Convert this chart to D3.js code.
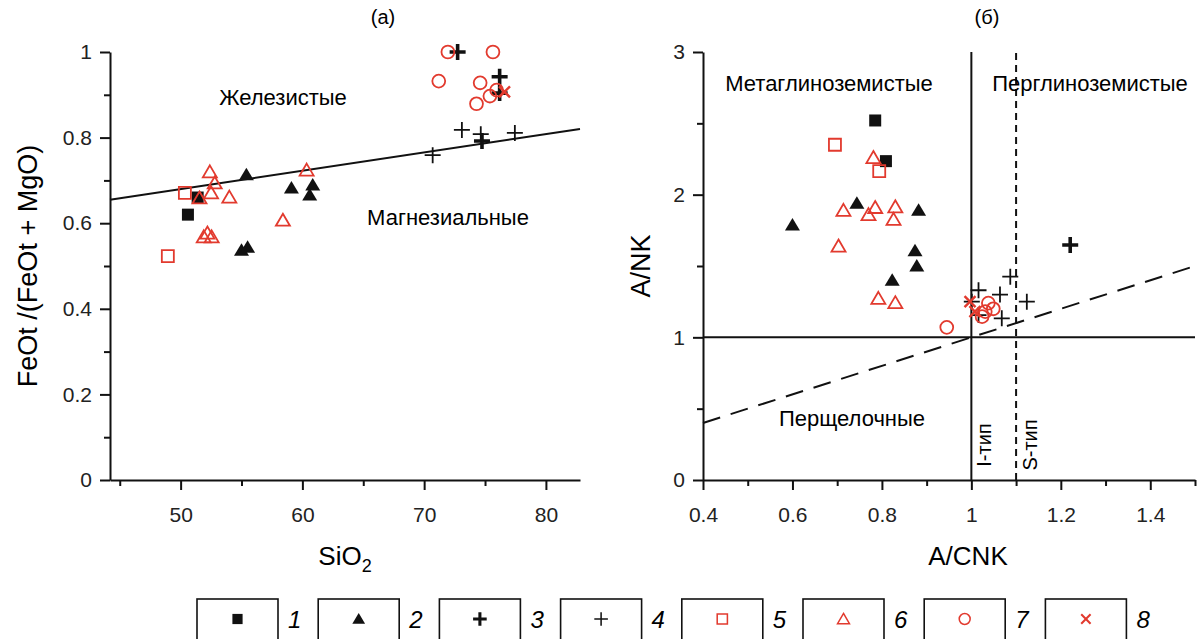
<!DOCTYPE html>
<html>
<head>
<meta charset="utf-8">
<script src="https://cdn.jsdelivr.net/npm/d3@7"></script>
<style>
  body { margin: 0; background: #fff; }
  svg { font-family: "Liberation Sans", Arial, sans-serif; }
</style>
</head>
<body>
<div id="chart"></div>
<script>
// ---- data (a): SiO2 vs FeOt/(FeOt+MgO) ----
const feS1 = [[50.6, 0.62], [51.4, 0.66]];
const feS2 = [[55.4, 0.713], [59.1, 0.682], [60.85, 0.689], [60.6, 0.666], [55.0, 0.537], [55.5, 0.544]];
const feS3 = [[72.75, 1.0], [76.2, 0.942], [76.2, 0.904], [74.75, 0.792]];
const feS4 = [[70.7, 0.759], [73.1, 0.818], [77.45, 0.811], [74.65, 0.808]];
const feS5 = [[50.35, 0.671], [48.95, 0.523]];
const feS6 = [[52.4, 0.72], [52.8, 0.694], [51.55, 0.659], [52.5, 0.671], [54.0, 0.661], [58.4, 0.607],
              [60.35, 0.724], [51.9, 0.568], [52.2, 0.577], [52.55, 0.568]];
const feS7 = [[71.95, 1.0], [75.65, 1.0], [71.2, 0.932], [74.6, 0.928], [74.3, 0.879], [75.4, 0.897], [75.95, 0.911]];
const feS8 = [[76.6, 0.907]];
const feBoundary = [[44.2, 0.655], [82.8, 0.82]];

// ---- data (б): A/CNK vs A/NK ----
const anS1 = [[0.785, 2.52], [0.809, 2.235]];
const anS2 = [[0.744, 1.94], [0.60, 1.787], [0.882, 1.89], [0.874, 1.607], [0.878, 1.50], [0.823, 1.40]];
const anS3 = [[1.221, 1.647]];
const anS4 = [[1.087, 1.425], [1.124, 1.25], [1.064, 1.30], [1.016, 1.33], [1.001, 1.25], [1.016, 1.156], [1.068, 1.133]];
const anS5 = [[0.695, 2.35], [0.794, 2.165]];
const anS6 = [[0.781, 2.26], [0.714, 1.89], [0.785, 1.91], [0.77, 1.86], [0.83, 1.915], [0.826, 1.827],
              [0.703, 1.64], [0.792, 1.273], [0.83, 1.243]];
const anS7 = [[0.945, 1.07], [1.038, 1.24], [1.049, 1.20], [1.031, 1.18], [1.024, 1.145]];
const anS8 = [[0.997, 1.25], [1.008, 1.18]];
const metaPerLine = [[1, 0], [1, 3]];
const iSLine = [[1.1, 0], [1.1, 3]];
const nkLine = [[0.4, 1], [1.5, 1]];
const peralkLine = [[0.4, 0.4], [1.5, 1.5]];

// ticks
const feXTicks = d3.range(45, 81, 5);
const feYTicks = d3.range(0, 11).map(d => d / 10);
const anXTicks = d3.range(4, 16).map(d => d / 10);
const anYTicks = d3.range(0, 7).map(d => d / 2);

const legendItems = ["1", "2", "3", "4", "5", "6", "7", "8"];
const markerTypes = ["sq", "tri", "pb", "p", "osq", "otri", "oc", "x"];

const RED = "#e23a2e", BLK = "#111";

var svg = d3.select("#chart").append("svg")
  .attr("width", 1203).attr("height", 639);

// marker drawing
function marker(g, type, x, y, k) {
  k = k || 1;
  var m = g.append("path").attr("transform", "translate(" + x + "," + y + ") scale(" + k + ")");
  if (type == "sq") {
    m.attr("d", "M-6,-6h12v12h-12z").attr("fill", BLK);
  } else if (type == "tri") {
    m.attr("d", "M0,-7L7.5,5.5H-7.5Z").attr("fill", BLK);
  } else if (type == "pb") {
    m.attr("d", "M-8,0H8M0,-8V8").attr("stroke", BLK).attr("stroke-width", 3.6).attr("fill", "none");
  } else if (type == "p") {
    m.attr("d", "M-8,0H8M0,-8V8").attr("stroke", BLK).attr("stroke-width", 1.8).attr("fill", "none");
  } else if (type == "osq") {
    m.attr("d", "M-6,-6h12v12h-12z").attr("fill", "none").attr("stroke", RED).attr("stroke-width", 1.8);
  } else if (type == "otri") {
    m.attr("d", "M0,-6.5L7,5.5H-7Z").attr("fill", "none").attr("stroke", RED).attr("stroke-width", 1.8);
  } else if (type == "oc") {
    m.attr("d", d3.symbol(d3.symbolCircle, 130)()).attr("fill", "none").attr("stroke", RED).attr("stroke-width", 1.8);
  } else if (type == "x") {
    m.attr("d", "M-5.5,-5.5L5.5,5.5M5.5,-5.5L-5.5,5.5").attr("stroke", RED).attr("stroke-width", 2.4).attr("fill", "none");
  }
}

function styleAxis(g, isMajor, horizontal) {
  g.select(".domain").attr("stroke", BLK).attr("stroke-width", 2);
  g.selectAll(".tick line").attr("stroke", BLK).attr("stroke-width", 2)
    .attr(horizontal ? "y2" : "x2", d => (isMajor(d) ? 10 : 6) * (horizontal ? 1 : -1));
  g.selectAll(".tick text").attr("font-size", 21).attr("fill", "#222");
}

// ================= panel (а) =================
var xL = d3.scaleLinear().domain([44.2, 82.8]).range([110, 580]);
var yL = d3.scaleLinear().domain([0, 1]).range([480, 52]);
var gL = svg.append("g");

var isMajL = d => Math.round(d) % 10 == 0;
gL.append("g").attr("transform", "translate(0,480)")
  .call(d3.axisBottom(xL).tickValues(feXTicks).tickSize(10).tickSizeOuter(0).tickPadding(17)
    .tickFormat(d => isMajL(d) ? d : ""))
  .call(g => styleAxis(g, isMajL, true));

var isMajLY = d => Math.round(d * 10) % 2 == 0;
gL.append("g").attr("transform", "translate(110,0)")
  .call(d3.axisLeft(yL).tickValues(feYTicks).tickSize(10).tickSizeOuter(0).tickPadding(8)
    .tickFormat(d => isMajLY(d) ? +d.toFixed(1) + "" : ""))
  .call(g => styleAxis(g, isMajLY, false));

gL.append("path").datum(feBoundary)
  .attr("fill", "none").attr("stroke", BLK).attr("stroke-width", 2)
  .attr("d", d3.line().x(d => xL(d[0])).y(d => yL(d[1])));

[feS1, feS2, feS3, feS4, feS5, feS6, feS7, feS8].forEach(function(s, i) {
  s.forEach(d => marker(gL, markerTypes[i], xL(d[0]), yL(d[1])));
});

gL.append("text").attr("x", 383).attr("y", 24).attr("text-anchor", "middle").attr("font-size", 20).text("(а)");
gL.append("text").attr("x", 283).attr("y", 105).attr("text-anchor", "middle").attr("font-size", 22).text("Железистые");
gL.append("text").attr("x", 448).attr("y", 225).attr("text-anchor", "middle").attr("font-size", 22).text("Магнезиальные");
var sio = gL.append("text").attr("x", 345).attr("y", 565).attr("text-anchor", "middle").attr("font-size", 26);
sio.append("tspan").text("SiO");
sio.append("tspan").attr("font-size", 18).attr("dy", 7).text("2");
gL.append("text").attr("transform", "translate(37,266) rotate(-90)").attr("text-anchor", "middle")
  .attr("font-size", 27).text("FeOt /(FeOt + MgO)");

// ================= panel (б) =================
var xR = d3.scaleLinear().domain([0.4, 1.5]).range([703, 1195]);
var yR = d3.scaleLinear().domain([0, 3]).range([480, 52]);
var gR = svg.append("g");

var isMajRX = d => Math.round(d * 10) % 2 == 0;
gR.append("g").attr("transform", "translate(0,480)")
  .call(d3.axisBottom(xR).tickValues(anXTicks).tickSize(10).tickSizeOuter(0).tickPadding(17)
    .tickFormat(d => isMajRX(d) ? +d.toFixed(1) + "" : ""))
  .call(g => styleAxis(g, isMajRX, true));

var isMajRY = d => Math.round(d * 2) % 2 == 0;
gR.append("g").attr("transform", "translate(703,0)")
  .call(d3.axisLeft(yR).tickValues(anYTicks).tickSize(10).tickSizeOuter(0).tickPadding(8)
    .tickFormat(d => isMajRY(d) ? d : ""))
  .call(g => styleAxis(g, isMajRY, false));

var lineR = d3.line().x(d => xR(d[0])).y(d => yR(d[1]));
gR.append("path").datum(metaPerLine).attr("d", lineR).attr("fill", "none").attr("stroke", BLK).attr("stroke-width", 2);
gR.append("path").datum(nkLine).attr("d", lineR).attr("fill", "none").attr("stroke", BLK).attr("stroke-width", 2);
gR.append("path").datum(iSLine).attr("d", lineR).attr("fill", "none").attr("stroke", BLK)
  .attr("stroke-width", 2).attr("stroke-dasharray", "7,5");
gR.append("path").datum(peralkLine).attr("d", lineR).attr("fill", "none").attr("stroke", BLK)
  .attr("stroke-width", 2).attr("stroke-dasharray", "18,11");

[anS1, anS2, anS3, anS4, anS5, anS6, anS7, anS8].forEach(function(s, i) {
  s.forEach(d => marker(gR, markerTypes[i], xR(d[0]), yR(d[1])));
});

gR.append("text").attr("x", 987).attr("y", 24).attr("text-anchor", "middle").attr("font-size", 20).text("(б)");
gR.append("text").attr("x", 829).attr("y", 91).attr("text-anchor", "middle").attr("font-size", 22).text("Метаглиноземистые");
gR.append("text").attr("x", 1090).attr("y", 91).attr("text-anchor", "middle").attr("font-size", 22).text("Перглиноземистые");
gR.append("text").attr("x", 852).attr("y", 426).attr("text-anchor", "middle").attr("font-size", 22).text("Перщелочные");
gR.append("text").attr("transform", "translate(991,445) rotate(-90)").attr("text-anchor", "middle")
  .attr("font-size", 20).text("I-тип");
gR.append("text").attr("transform", "translate(1037,445) rotate(-90)").attr("text-anchor", "middle")
  .attr("font-size", 20).text("S-тип");
gR.append("text").attr("x", 968).attr("y", 565).attr("text-anchor", "middle").attr("font-size", 26).text("A/CNK");
gR.append("text").attr("transform", "translate(650,266) rotate(-90)").attr("text-anchor", "middle")
  .attr("font-size", 27).text("A/NK");

// ================= legend =================
var gLeg = svg.append("g");
legendItems.forEach(function(lab, i) {
  var x0 = 197 + i * 121.2;
  gLeg.append("rect").attr("x", x0).attr("y", 599).attr("width", 81).attr("height", 50)
    .attr("fill", "none").attr("stroke", BLK).attr("stroke-width", 1.6);
  marker(gLeg, markerTypes[i], x0 + 40.5, 619, 0.85);
  gLeg.append("text").attr("x", x0 + 91).attr("y", 628).attr("font-size", 24)
    .attr("font-style", "italic").text(lab);
});
</script>
</body>
</html>
